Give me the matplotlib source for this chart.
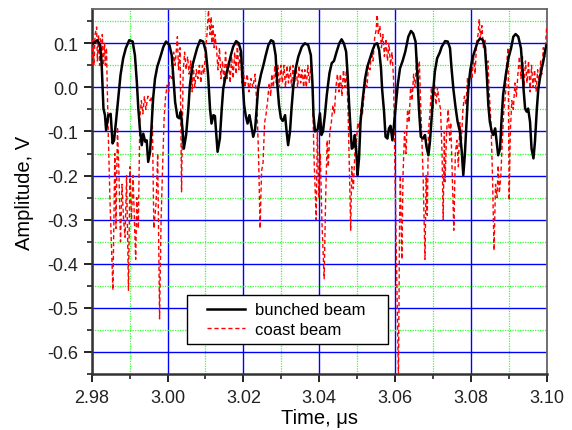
import matplotlib
matplotlib.use("Agg")
import matplotlib.pyplot as plt
from matplotlib.patches import Rectangle
from matplotlib.ticker import MultipleLocator, FormatStrFormatter

plt.rcParams['font.family'] = ['Liberation Sans', 'DejaVu Sans']

# ---- data (time in microseconds, amplitude in volts) ----
bunched_t = [2.9804, 2.9815, 2.9822, 2.9826, 2.9829, 2.9831, 2.9835, 2.9838, 2.9844, 2.9850,
             2.9855, 2.9859, 2.9864, 2.9870, 2.9876, 2.9883, 2.9890, 2.9899, 2.9908, 2.9914,
             2.9919, 2.9923, 2.9927, 2.9932, 2.9936, 2.9941, 2.9945, 2.9949, 2.9954, 2.9958,
             2.9962, 2.9967, 2.9973, 2.9980, 2.9989, 2.9996, 3.0005, 3.0011, 3.0015, 3.0020,
             3.0026, 3.0031, 3.0035, 3.0040, 3.0043, 3.0049, 3.0055, 3.0059, 3.0066, 3.0072,
             3.0078, 3.0086, 3.0094, 3.0101, 3.0107, 3.0112, 3.0116, 3.0121, 3.0125, 3.0132,
             3.0138, 3.0143, 3.0147, 3.0153, 3.0160, 3.0167, 3.0173, 3.0181, 3.0188, 3.0194,
             3.0197, 3.0202, 3.0206, 3.0211, 3.0216, 3.0220, 3.0226, 3.0231, 3.0235, 3.0239,
             3.0246, 3.0253, 3.0259, 3.0266, 3.0273, 3.0279, 3.0285, 3.0289, 3.0294, 3.0299,
             3.0304, 3.0310, 3.0314, 3.0318, 3.0323, 3.0327, 3.0332, 3.0338, 3.0345, 3.0354,
             3.0362, 3.0371, 3.0378, 3.0382, 3.0385, 3.0389, 3.0396, 3.0402, 3.0406, 3.0410,
             3.0415, 3.0420, 3.0427, 3.0433, 3.0439, 3.0446, 3.0453, 3.0459, 3.0465, 3.0471,
             3.0475, 3.0479, 3.0483, 3.0486, 3.0490, 3.0494, 3.0499, 3.0501, 3.0505, 3.0509,
             3.0515, 3.0521, 3.0527, 3.0534, 3.0541, 3.0547, 3.0553, 3.0558, 3.0563, 3.0566,
             3.0571, 3.0575, 3.0580, 3.0584, 3.0588, 3.0593, 3.0597, 3.0602, 3.0607, 3.0613,
             3.0620, 3.0627, 3.0635, 3.0642, 3.0648, 3.0654, 3.0659, 3.0663, 3.0668, 3.0674,
             3.0679, 3.0683, 3.0688, 3.0692, 3.0697, 3.0701, 3.0705, 3.0711, 3.0718, 3.0723,
             3.0732, 3.0739, 3.0745, 3.0749, 3.0754, 3.0760, 3.0765, 3.0771, 3.0776, 3.0780,
             3.0784, 3.0789, 3.0793, 3.0798, 3.0804, 3.0811, 3.0818, 3.0824, 3.0831, 3.0837,
             3.0842, 3.0846, 3.0850, 3.0855, 3.0859, 3.0864, 3.0868, 3.0872, 3.0877, 3.0881,
             3.0885, 3.0892, 3.0899, 3.0906, 3.0912, 3.0918, 3.0925, 3.0932, 3.0936, 3.0939,
             3.0943, 3.0947, 3.0951, 3.0956, 3.0960, 3.0965, 3.0969, 3.0974, 3.0978, 3.0985,
             3.0991, 3.0997, 3.1000]
bunched_v = [0.100, 0.107, 0.096, 0.059, -0.002, -0.048, -0.063, -0.097, -0.063, -0.060,
             -0.127, -0.120, -0.078, -0.025, 0.028, 0.066, 0.089, 0.107, 0.104, 0.073,
             0.013, -0.048, -0.093, -0.131, -0.105, -0.123, -0.120, -0.169, -0.146, -0.086,
             -0.025, 0.020, 0.047, 0.066, 0.092, 0.104, 0.096, 0.073, 0.028, -0.033,
             -0.067, -0.070, -0.055, -0.100, -0.139, -0.108, -0.048, 0.005, 0.051, 0.070,
             0.089, 0.107, 0.104, 0.081, 0.028, -0.048, -0.082, -0.063, -0.065, -0.146,
             -0.116, -0.048, -0.002, 0.024, 0.047, 0.073, 0.092, 0.105, 0.100, 0.081,
             0.028, -0.040, -0.063, -0.082, -0.063, -0.082, -0.112, -0.095, -0.048, -0.002,
             0.028, 0.051, 0.073, 0.096, 0.107, 0.104, 0.073, 0.013, -0.040, -0.070,
             -0.076, -0.063, -0.100, -0.131, -0.100, -0.048, 0.005, 0.043, 0.070, 0.092,
             0.100, 0.096, 0.073, 0.013, -0.063, -0.100, -0.095, -0.059, -0.108, -0.100,
             -0.063, -0.017, 0.032, 0.055, 0.060, 0.081, 0.100, 0.109, 0.100, 0.081,
             0.028, -0.040, -0.100, -0.139, -0.135, -0.108, -0.161, -0.199, -0.161, -0.078,
             -0.025, 0.020, 0.047, 0.066, 0.085, 0.098, 0.100, 0.085, 0.043, -0.005,
             -0.055, -0.112, -0.116, -0.093, -0.087, -0.120, -0.087, -0.040, 0.005, 0.043,
             0.060, 0.081, 0.115, 0.128, 0.122, 0.104, 0.028, -0.048, -0.112, -0.116,
             -0.108, -0.135, -0.154, -0.123, -0.063, -0.005, 0.036, 0.066, 0.079, 0.092,
             0.105, 0.104, 0.089, 0.043, -0.005, -0.048, -0.078, -0.100, -0.146, -0.199,
             -0.154, -0.070, -0.005, 0.036, 0.066, 0.085, 0.104, 0.111, 0.108, 0.092,
             0.028, -0.040, -0.078, -0.100, -0.108, -0.093, -0.123, -0.154, -0.139, -0.070,
             -0.017, 0.028, 0.066, 0.089, 0.115, 0.121, 0.115, 0.089, 0.043, -0.005,
             -0.048, -0.055, -0.048, -0.078, -0.139, -0.161, -0.123, -0.048, -0.002, 0.036,
             0.059, 0.089, 0.096]

coast_t = [2.9801, 2.9803, 2.9806, 2.9809, 2.9813, 2.9815, 2.9818, 2.9821, 2.9823, 2.9826,
           2.9828, 2.9831, 2.9834, 2.9836, 2.9839, 2.9843, 2.9848, 2.9856, 2.9861, 2.9864,
           2.9868, 2.9872, 2.9876, 2.9880, 2.9884, 2.9888, 2.9892, 2.9897, 2.9901, 2.9905,
           2.9909, 2.9916, 2.9919, 2.9923, 2.9927, 2.9931, 2.9935, 2.9939, 2.9943, 2.9948,
           2.9954, 2.9959, 2.9964, 2.9970, 2.9974, 2.9979, 2.9983, 2.9987, 2.9991, 2.9995,
           2.9999, 3.0003, 3.0006, 3.0012, 3.0016, 3.0020, 3.0026, 3.0029, 3.0033, 3.0037,
           3.0041, 3.0045, 3.0049, 3.0053, 3.0057, 3.0061, 3.0065, 3.0068, 3.0072, 3.0076,
           3.0080, 3.0084, 3.0088, 3.0092, 3.0096, 3.0100, 3.0104, 3.0108, 3.0112, 3.0115,
           3.0117, 3.0120, 3.0123, 3.0125, 3.0129, 3.0133, 3.0137, 3.0141, 3.0145, 3.0149,
           3.0153, 3.0157, 3.0161, 3.0165, 3.0169, 3.0173, 3.0177, 3.0181, 3.0184, 3.0188,
           3.0192, 3.0196, 3.0200, 3.0204, 3.0210, 3.0215, 3.0220, 3.0225, 3.0231, 3.0236,
           3.0240, 3.0244, 3.0248, 3.0252, 3.0256, 3.0260, 3.0264, 3.0268, 3.0272, 3.0275,
           3.0279, 3.0283, 3.0287, 3.0291, 3.0295, 3.0299, 3.0303, 3.0307, 3.0311, 3.0315,
           3.0319, 3.0323, 3.0327, 3.0331, 3.0335, 3.0339, 3.0343, 3.0347, 3.0351, 3.0355,
           3.0359, 3.0362, 3.0366, 3.0370, 3.0374, 3.0378, 3.0382, 3.0386, 3.0392, 3.0395,
           3.0399, 3.0403, 3.0407, 3.0413, 3.0417, 3.0421, 3.0424, 3.0428, 3.0432, 3.0436,
           3.0440, 3.0444, 3.0448, 3.0452, 3.0456, 3.0460, 3.0464, 3.0468, 3.0472, 3.0476,
           3.0480, 3.0483, 3.0486, 3.0490, 3.0494, 3.0498, 3.0502, 3.0506, 3.0510, 3.0514,
           3.0518, 3.0522, 3.0526, 3.0530, 3.0534, 3.0538, 3.0542, 3.0546, 3.0550, 3.0553,
           3.0556, 3.0560, 3.0564, 3.0568, 3.0572, 3.0576, 3.0580, 3.0584, 3.0588, 3.0592,
           3.0596, 3.0600, 3.0604, 3.0609, 3.0612, 3.0614, 3.0618, 3.0621, 3.0625, 3.0629,
           3.0633, 3.0637, 3.0641, 3.0645, 3.0649, 3.0653, 3.0657, 3.0660, 3.0664, 3.0668,
           3.0674, 3.0679, 3.0682, 3.0685, 3.0688, 3.0692, 3.0696, 3.0700, 3.0704, 3.0708,
           3.0712, 3.0716, 3.0720, 3.0724, 3.0727, 3.0730, 3.0732, 3.0736, 3.0740, 3.0744,
           3.0747, 3.0751, 3.0755, 3.0759, 3.0763, 3.0767, 3.0771, 3.0775, 3.0779, 3.0783,
           3.0787, 3.0791, 3.0795, 3.0799, 3.0803, 3.0807, 3.0811, 3.0815, 3.0819, 3.0822,
           3.0825, 3.0829, 3.0833, 3.0837, 3.0841, 3.0845, 3.0849, 3.0853, 3.0857, 3.0861,
           3.0865, 3.0869, 3.0872, 3.0875, 3.0879, 3.0883, 3.0887, 3.0891, 3.0895, 3.0898,
           3.0901, 3.0904, 3.0908, 3.0912, 3.0916, 3.0920, 3.0924, 3.0928, 3.0932, 3.0936,
           3.0940, 3.0944, 3.0948, 3.0952, 3.0956, 3.0960, 3.0964, 3.0968, 3.0972, 3.0976,
           3.0980, 3.0984, 3.0987, 3.0991, 3.0995, 3.1000]
coast_v = [0.05, 0.11, 0.05, 0.12, 0.137, 0.06, 0.12, 0.05, 0.11, 0.05,
           0.12, 0.05, 0.10, 0.05, 0.09, -0.08, -0.25, -0.46, -0.15, -0.32,
           -0.09, -0.20, -0.35, -0.22, -0.30, -0.34, -0.20, -0.46, -0.18, -0.30,
           -0.20, -0.39, -0.25, -0.32, -0.07, -0.03, -0.06, -0.02, -0.05, -0.02,
           -0.03, -0.02, -0.32, -0.26, -0.15, -0.525, -0.30, -0.18, -0.07, -0.02,
           0.005, -0.01, 0.03, 0.02, 0.08, 0.05, 0.115, 0.04, 0.09, -0.237,
           0.03, 0.08, 0.04, 0.07, 0.03, 0.06, -0.01, 0.05, 0.00, 0.04,
           0.02, 0.05, 0.01, 0.05, 0.03, 0.08, 0.12, 0.175, 0.12, 0.16,
           0.10, 0.14, 0.09, 0.12, 0.09, 0.04, 0.09, 0.02, 0.06, 0.01,
           0.08, 0.02, 0.06, 0.01, 0.07, 0.02, 0.08, 0.03, 0.10, 0.04,
           0.09, 0.01, 0.04, 0.00, 0.03, -0.01, 0.02, 0.00, 0.03, -0.05,
           -0.15, -0.32, -0.19, -0.17, -0.08, -0.06, -0.03, 0.01, -0.02, 0.03,
           0.00, 0.05, 0.01, 0.05, 0.00, 0.05, 0.01, 0.05, 0.00, 0.05,
           0.01, 0.05, 0.00, 0.05, 0.01, 0.05, 0.00, 0.05, 0.01, 0.04,
           0.00, 0.04, 0.00, 0.05, 0.01, 0.05, 0.01, -0.15, -0.30, -0.10,
           -0.25, -0.15, -0.30, -0.434, -0.25, -0.12, -0.18, -0.10, -0.08, -0.04,
           -0.06, 0.00, 0.03, -0.01, 0.03, -0.02, 0.04, 0.00, 0.04, -0.05,
           -0.20, -0.324, -0.18, -0.23, -0.15, -0.12, -0.08, -0.10, -0.05, -0.06,
           -0.02, 0.02, 0.00, 0.05, 0.04, 0.08, 0.06, 0.11, 0.13, 0.165,
           0.12, 0.14, 0.09, 0.12, 0.07, 0.11, 0.06, 0.10, 0.05, 0.08,
           0.02, -0.20, -0.40, -0.66, -0.30, -0.20, -0.39, -0.20, -0.10, -0.15,
           -0.05, -0.08, 0.00, -0.03, 0.03, 0.00, 0.07, 0.01, 0.06, -0.05,
           -0.20, -0.39, -0.20, -0.29, -0.10, -0.06, 0.00, -0.05, 0.01, -0.04,
           0.00, -0.03, -0.05, -0.15, -0.30, -0.10, -0.214, -0.10, -0.05, -0.12,
           -0.08, -0.20, -0.324, -0.15, -0.12, -0.18, -0.08, -0.12, -0.05, -0.02,
           -0.04, 0.02, 0.00, 0.05, 0.02, 0.07, 0.03, 0.10, 0.12, 0.155,
           0.11, 0.14, 0.09, 0.11, 0.05, 0.06, -0.02, -0.08, -0.20, -0.37,
           -0.22, -0.25, -0.177, -0.24, -0.20, -0.12, -0.05, -0.02, 0.06, 0.09,
           -0.256, -0.10, -0.03, -0.05, 0.01, -0.02, 0.03, 0.07, 0.02, 0.07,
           0.00, 0.06, 0.01, 0.06, -0.01, 0.05, 0.00, 0.04, -0.01, 0.04,
           0.00, 0.06, 0.03, 0.09, 0.07, 0.14]

x_ticks = [2.98, 3.00, 3.02, 3.04, 3.06, 3.08, 3.10]
y_ticks = [0.1, 0.0, -0.1, -0.2, -0.3, -0.4, -0.5, -0.6]
series_labels = ["bunched beam", "coast beam"]
x_label = "Time, \u03bcs"
y_label = "Amplitude, V"

fig = plt.figure(figsize=(5.72, 4.31), dpi=100)
ax = fig.add_axes([0.1603, 0.130, 0.7955, 0.847])

ax.plot(bunched_t, bunched_v, color='black', lw=1.8, label=series_labels[0], zorder=4)
ax.plot(coast_t, coast_v, color='#ff0000', lw=1.0, ls=(0, (3, 2)), label=series_labels[1], zorder=3)

ax.set_xlim(2.98, 3.10)
ax.set_ylim(-0.65, 0.178)
ax.set_xticks(x_ticks)
ax.set_yticks(y_ticks)
ax.xaxis.set_minor_locator(MultipleLocator(0.01))
ax.yaxis.set_minor_locator(MultipleLocator(0.05))
ax.xaxis.set_major_formatter(FormatStrFormatter('%.2f'))
ax.yaxis.set_major_formatter(FormatStrFormatter('%.1f'))

ax.grid(which='major', color='#0000ff', lw=1.0, ls='-', zorder=1)
ax.grid(which='minor', color='#33ff33', lw=0.9, ls=(0, (1, 1)), zorder=1)
ax.set_axisbelow(True)

ax.tick_params(which='major', direction='out', length=6, width=1.4, labelsize=13,
               colors='#222222', top=False, right=False)
ax.tick_params(which='minor', direction='out', length=3.5, width=1.2, colors='#222222',
               top=False, right=False)
ax.tick_params(axis='x', pad=5)
for s in ['left', 'bottom']:
    ax.spines[s].set_color('#333333')
    ax.spines[s].set_linewidth(1.8)
for s in ['top', 'right']:
    ax.spines[s].set_color('#666666')
    ax.spines[s].set_linewidth(1.3)

ax.set_xlabel(x_label, fontsize=14.5, labelpad=1)
ax.set_ylabel(y_label, fontsize=14.5, labelpad=10)

# legend box (frame drawn separately to match the wide side padding)
ax.add_patch(Rectangle((0.2088, 0.0822), 0.4417, 0.1342, transform=ax.transAxes,
                       facecolor='white', edgecolor='black', lw=1.0, zorder=5))
leg = ax.legend(loc='center left', bbox_to_anchor=(0.2527, 0.1493), fontsize=12,
                frameon=False, borderpad=0, borderaxespad=0,
                handlelength=2.3, labelspacing=0.25, handletextpad=0.6)
leg.set_zorder(6)

fig.savefig('out.png', dpi=100)
